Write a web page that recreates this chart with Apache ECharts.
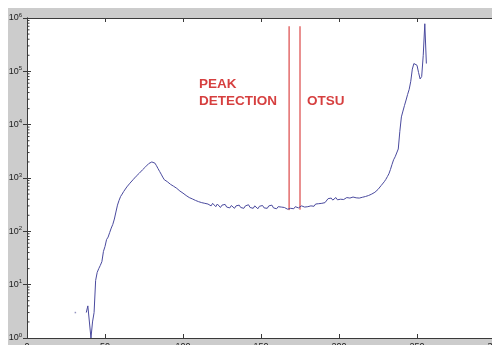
<!DOCTYPE html>
<html>
<head>
<meta charset="utf-8">
<script src="https://cdn.jsdelivr.net/npm/echarts@6/dist/echarts.min.js"></script>
<style>
  html, body { margin: 0; padding: 0; background: #fff; }
  #histo { width: 492px; height: 345px; }
</style>
</head>
<body>
<div id="histo"></div>
<script>
  'use strict'

  /*----- histogram counts, bins 38..256 -----*/
  var firstBin = 38;
  var counts = [
    3, 4, 4, 1, 2, 3, 12, 17, 20, 23, 27, 42, 52,                       // 38-50
    70, 78, 95, 115, 135, 170, 230, 310, 380, 450,                      // 51-60
    500, 560, 610, 680, 730, 800, 860, 930, 1000, 1080,                 // 61-70
    1150, 1230, 1320, 1420, 1520, 1620, 1740, 1860, 1950, 2000,         // 71-80
    2020, 1900, 1700, 1500, 1330, 1180, 1040, 930, 870, 850,            // 81-90
    800, 760, 730, 700, 680, 640, 600, 570, 540, 520,                   // 91-100
    500, 470, 450, 430, 415, 405, 395, 380, 365, 360,                   // 101-110
    350, 345, 340, 335, 330, 325, 330, 300, 335, 310,                   // 111-120
    290, 325, 300, 280, 310, 295, 320, 285, 300, 275,                   // 121-130
    305, 290, 270, 300, 285, 310, 280, 295, 270, 300,                   // 131-140
    290, 315, 280, 290, 270, 300, 285, 265, 295, 280,                   // 141-150
    305, 275, 290, 270, 300, 280, 310, 275, 285, 265,                   // 151-160
    290, 275, 285, 270, 280, 265, 260, 250, 270, 285,                   // 161-170
    265, 290, 300, 275, 255, 300, 300, 285, 310, 290,                   // 171-180
    315, 300, 320, 295, 325, 305, 330, 310, 335, 320,                   // 181-190
    345, 360, 410, 395, 420, 385, 410, 430, 390, 415,                   // 191-200
    400, 425, 395, 410, 430, 400, 420, 405, 440, 415,                   // 201-210
    425, 445, 420, 450, 435, 460, 450, 475, 470, 490,                   // 211-220
    500, 520, 540, 570, 610, 660, 720, 780, 850, 940,                   // 221-230
    1060, 1200, 1450, 1800, 2200, 2500, 2500, 3500, 7500, 14000,        // 231-240
    18000, 23000, 29000, 37000, 46000, 65000, 110000, 140000, 150000, 130000, // 241-250
    95000, 72000, 80000, 200000, 780000, 140000                         // 251-256
  ];
  // single count standing alone (neighbours are empty bins)
  var strayBin = [31, 3];

  var thresholds = [168, 175];   // peak detection, otsu
  var thresholdTop = 700000;

  var xTicks = { min: 0, max: 300, step: 50 };
  var yRange = { min: 1, max: 1000000 };

  var noteTexts = ['PEAK\nDETECTION', 'OTSU'];
  var noteBins = [110.3, 179.5];
  var noteLevel = 19000;

  var histData = counts.map(function (v, i) { return [firstBin + i, v]; });

  var lineData = thresholds.map(function (t) {
    return [[t, counts[t - firstBin]], [t, thresholdTop]];
  });

  // log minor ticks 2..9 per decade
  var minorTicks = [];
  for (var d = 1; d < yRange.max; d *= 10) {
    for (var k = 2; k <= 9; k++) minorTicks.push([0, k * d]);
  }

  var font = 'Liberation Sans, Arial, sans-serif';
  var axisGray = '#3a3a3a';
  var red = '#d42222';

  var optionHist = {
    backgroundColor: '#fff',
    animation: false,
    textStyle: { fontFamily: font },
    graphic: [{
      type: 'rect', z: -10, silent: true,
      shape: { x: 8, y: 8, width: 500, height: 345 },
      style: { fill: '#cccccc' }
    }],
    grid: {
      left: 27, top: 18, width: 468, height: 320,
      outerBoundsMode: 'none', containLabel: false,
      show: true, backgroundColor: '#fff', borderWidth: 0
    },
    xAxis: [{
      type: 'value', position: 'bottom',
      min: xTicks.min, max: xTicks.max, interval: xTicks.step,
      axisLine: { show: true, lineStyle: { color: axisGray, width: 1 } },
      axisTick: { show: true, inside: true, length: 4, lineStyle: { color: axisGray } },
      axisLabel: { fontSize: 9, color: '#222', margin: 4, fontFamily: font, showMaxLabel: true },
      splitLine: { show: false }
    }, {
      type: 'value', position: 'top',
      min: xTicks.min, max: xTicks.max, interval: xTicks.step,
      axisLine: { show: true, lineStyle: { color: axisGray, width: 1 } },
      axisTick: { show: true, inside: true, length: 4, lineStyle: { color: axisGray } },
      axisLabel: { show: false },
      splitLine: { show: false }
    }],
    yAxis: [{
      type: 'log', logBase: 10, position: 'left',
      min: yRange.min, max: yRange.max, splitNumber: 6,
      axisLine: { show: true, lineStyle: { color: axisGray, width: 1 } },
      axisTick: { show: true, inside: true, length: 4, lineStyle: { color: axisGray } },
      axisLabel: {
        margin: 5,
        formatter: function (v) {
          return '{b|10}{e|' + Math.round(Math.log10(v)) + '}';
        },
        rich: {
          b: { fontSize: 9, color: '#222', fontFamily: font },
          e: { fontSize: 6, color: '#222', fontFamily: font, padding: [0, 0, 6, 0] }
        }
      },
      splitLine: { show: false }
    }, {
      type: 'log', logBase: 10, position: 'right',
      min: yRange.min, max: yRange.max, splitNumber: 6,
      axisLine: { show: true, lineStyle: { color: axisGray, width: 1 } },
      axisTick: { show: true, inside: true, length: 4, lineStyle: { color: axisGray } },
      axisLabel: { show: false },
      splitLine: { show: false }
    }],
    series: [
      {
        name: 'histogram',
        type: 'line',
        data: histData,
        showSymbol: false,
        color: '#4a4a9e',
        lineStyle: { color: '#4a4a9e', width: 1 },
        z: 3
      },
      {
        name: 'stray',
        type: 'scatter',
        data: [strayBin],
        symbol: 'rect',
        symbolSize: 1.5,
        itemStyle: { color: '#7a7ab0' }
      },
      {
        name: 'peak detection',
        type: 'line',
        data: lineData[0],
        showSymbol: false,
        color: red,
        itemStyle: { color: red },
        lineStyle: { color: red, width: 1 },
        z: 2
      },
      {
        name: 'otsu',
        type: 'line',
        data: lineData[1],
        showSymbol: false,
        color: red,
        itemStyle: { color: red },
        lineStyle: { color: red, width: 1 },
        z: 2
      },
      {
        name: 'notes',
        type: 'scatter',
        symbolSize: 0,
        data: noteBins.map(function (b, i) { return { value: [b, noteLevel], name: noteTexts[i] }; }),
        label: {
          show: true,
          position: [0, 0],
          align: 'left',
          verticalAlign: 'bottom',
          formatter: '{b}',
          color: '#cc0f0f',
          fontWeight: 'bold',
          fontSize: 13.5,
          lineHeight: 17,
          fontFamily: font
        }
      },
      {
        name: 'minor ticks',
        type: 'custom',
        silent: true,
        clip: false,
        data: minorTicks,
        renderItem: function (params, api) {
          var v = api.value(1);
          var p = api.coord([xTicks.min, v]);
          var q = api.coord([xTicks.max, v]);
          var st = { stroke: axisGray, lineWidth: 1 };
          return {
            type: 'group',
            children: [
              { type: 'line', shape: { x1: p[0], y1: p[1], x2: p[0] + 2.5, y2: p[1] }, style: st },
              { type: 'line', shape: { x1: q[0] - 2.5, y1: q[1], x2: q[0], y2: q[1] }, style: st }
            ]
          };
        }
      }
    ]
  };

  var histChart = echarts.init(document.getElementById('histo'));
  histChart.setOption(optionHist);
</script>
</body>
</html>
